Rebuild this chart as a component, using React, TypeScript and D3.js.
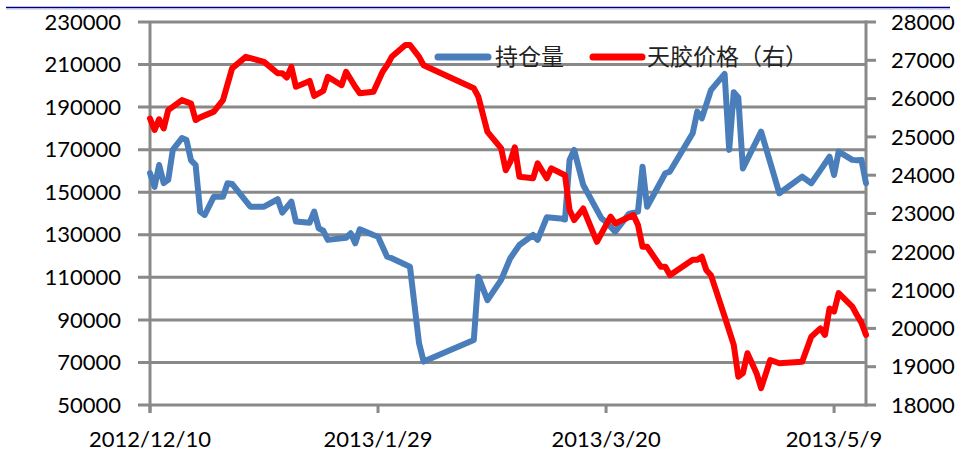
import React, { useEffect, useRef } from 'react';
import * as d3 from 'd3';

// 持仓量 (left axis)
const oiDates = [
  '2012-12-10', '2012-12-11', '2012-12-12', '2012-12-13', '2012-12-14', '2012-12-15',
  '2012-12-17', '2012-12-18', '2012-12-19', '2012-12-20', '2012-12-21', '2012-12-22',
  '2012-12-24', '2012-12-26', '2012-12-27', '2012-12-28', '2013-01-01', '2013-01-04',
  '2013-01-07', '2013-01-08', '2013-01-10', '2013-01-11', '2013-01-14', '2013-01-15',
  '2013-01-16', '2013-01-17', '2013-01-18', '2013-01-22', '2013-01-23', '2013-01-24',
  '2013-01-25', '2013-01-28', '2013-01-29', '2013-01-31', '2013-02-01', '2013-02-05',
  '2013-02-07', '2013-02-08', '2013-02-19', '2013-02-20', '2013-02-22', '2013-02-25',
  '2013-02-27', '2013-03-01', '2013-03-04', '2013-03-05', '2013-03-07', '2013-03-10',
  '2013-03-11', '2013-03-12', '2013-03-13', '2013-03-15', '2013-03-19', '2013-03-20',
  '2013-03-22', '2013-03-25', '2013-03-27', '2013-03-28', '2013-03-29', '2013-04-02',
  '2013-04-03', '2013-04-08', '2013-04-09', '2013-04-10', '2013-04-12', '2013-04-15',
  '2013-04-16', '2013-04-17', '2013-04-18', '2013-04-19', '2013-04-23', '2013-04-27',
  '2013-05-02', '2013-05-04', '2013-05-06', '2013-05-08', '2013-05-09', '2013-05-10',
  '2013-05-13', '2013-05-14', '2013-05-15', '2013-05-16'
];
const oiValues = [
  159000, 152500, 162800, 154300, 155800, 169900,
  175500, 174500, 165000, 162800, 140900, 139300,
  147900, 147900, 154200, 153900, 143200, 143200,
  146700, 140400, 145600, 136200, 135700, 140900,
  133000, 131900, 127600, 128600, 130700, 126000,
  132600, 129900, 129100, 119700, 119000, 115000,
  79000, 70400, 80500, 110300, 99300, 108800,
  119000, 125200, 129900, 127600, 138200, 137700,
  137200, 165200, 169900, 153400, 137700, 136000,
  131500, 139800, 140900, 162000, 143200, 158900,
  159700, 177700, 187900, 184700, 198000, 205600,
  169900, 197000, 194500, 161200, 178500, 149500,
  157300, 154200, 160400, 166700, 158100, 169100,
  165200, 165000, 165200, 154200
];

// 天胶价格 (right axis)
const priceDates = [
  '2012-12-10', '2012-12-11', '2012-12-12', '2012-12-13', '2012-12-14', '2012-12-17',
  '2012-12-19', '2012-12-20', '2012-12-21', '2012-12-24', '2012-12-26', '2012-12-28',
  '2012-12-31', '2013-01-04', '2013-01-07', '2013-01-08', '2013-01-09', '2013-01-10',
  '2013-01-11', '2013-01-13', '2013-01-14', '2013-01-15', '2013-01-17', '2013-01-18',
  '2013-01-21', '2013-01-22', '2013-01-24', '2013-01-25', '2013-01-28', '2013-01-30',
  '2013-01-31', '2013-02-01', '2013-02-04', '2013-02-05', '2013-02-07', '2013-02-08',
  '2013-02-19', '2013-02-20', '2013-02-22', '2013-02-25', '2013-02-26', '2013-02-27',
  '2013-02-28', '2013-03-01', '2013-03-04', '2013-03-05', '2013-03-07', '2013-03-08',
  '2013-03-11', '2013-03-12', '2013-03-13', '2013-03-15', '2013-03-18', '2013-03-21',
  '2013-03-22', '2013-03-26', '2013-03-27', '2013-03-28', '2013-03-29', '2013-04-01',
  '2013-04-02', '2013-04-03', '2013-04-08', '2013-04-09', '2013-04-10', '2013-04-11',
  '2013-04-12', '2013-04-15', '2013-04-17', '2013-04-18', '2013-04-19', '2013-04-20',
  '2013-04-22', '2013-04-23', '2013-04-25', '2013-04-27', '2013-05-02', '2013-05-04',
  '2013-05-06', '2013-05-07', '2013-05-08', '2013-05-09', '2013-05-10', '2013-05-13',
  '2013-05-14', '2013-05-15', '2013-05-16'
];
const priceValues = [
  25480, 25180, 25460, 25220, 25700, 25960,
  25870, 25440, 25510, 25660, 25960, 26790,
  27090, 26960, 26660, 26660, 26550, 26830,
  26310, 26410, 26460, 26070, 26200, 26570,
  26350, 26700, 26310, 26140, 26180, 26700,
  26870, 27090, 27400, 27400, 27090, 26870,
  26270, 26050, 25130, 24700, 24130, 24350,
  24730, 23960, 23920, 24310, 23920, 24180,
  24000, 23090, 22830, 23130, 22260, 22920,
  22740, 22960, 22700, 22130, 22130, 21610,
  21610, 21390, 21790, 21790, 21870, 21520,
  21390, 20310, 19570, 18740, 18830, 19350,
  18830, 18440, 19175, 19090, 19130, 19780,
  20000, 19830, 20520, 20440, 20920, 20570,
  20350, 20150, 19830
];

const leftTicks = [50000, 70000, 90000, 110000, 130000, 150000, 170000, 190000, 210000, 230000];
const rightTicks = [18000, 19000, 20000, 21000, 22000, 23000, 24000, 25000, 26000, 27000, 28000];
const xTickLabels = ['2012/12/10', '2013/1/29', '2013/3/20', '2013/5/9'];
const seriesNames = ['持仓量', '天胶价格（右）'];

const BLUE = '#4A7EBB';
const RED = '#FF0000';
const GRID = '#898989';

const App: React.FC = () => {
  const svgRef = useRef<SVGSVGElement>(null);
  const width = 959;
  const height = 455;

  useEffect(() => {
    const svg = d3.select(svgRef.current);
    svg.selectAll('*').remove();

    const plot = { left: 150, right: 866, top: 22, bottom: 405 };
    const parseDate = d3.timeParse('%Y-%m-%d');
    const tickFmt = d3.timeFormat('%Y/%-m/%-d');

    const oi = oiDates.map((d, i) => ({ date: parseDate(d) as Date, value: oiValues[i] }));
    const price = priceDates.map((d, i) => ({ date: parseDate(d) as Date, value: priceValues[i] }));

    const xScale = d3.scaleTime()
      .domain([parseDate('2012-12-10') as Date, parseDate('2013-05-16') as Date])
      .range([plot.left, plot.right]);

    const yLeft = d3.scaleLinear()
      .domain([50000, 230000])
      .range([plot.bottom, plot.top]);

    const yRight = d3.scaleLinear()
      .domain([18000, 28000])
      .range([plot.bottom, plot.top]);

    const xTicks = xTickLabels.map(s => {
      const [y, m, d] = s.split('/').map(Number);
      return new Date(y, m - 1, d);
    });

    const font = 'Lato, "Open Sans", sans-serif';

    // top rule
    svg.append('line')
      .attr('x1', 6).attr('x2', 950)
      .attr('y1', 7.5).attr('y2', 7.5)
      .attr('stroke', '#000080')
      .attr('stroke-width', 1.5);
    svg.append('line')
      .attr('x1', 6).attr('x2', 950)
      .attr('y1', 9).attr('y2', 9)
      .attr('stroke', '#b8bce0')
      .attr('stroke-width', 1);

    // gridlines
    svg.append('g')
      .selectAll('line')
      .data(leftTicks)
      .enter().append('line')
      .attr('x1', plot.left - 12)
      .attr('x2', plot.right)
      .attr('y1', d => yLeft(d))
      .attr('y2', d => yLeft(d))
      .attr('stroke', GRID)
      .attr('stroke-width', 3);

    // left axis line
    svg.append('line')
      .attr('x1', plot.left).attr('x2', plot.left)
      .attr('y1', plot.top).attr('y2', plot.bottom + 8)
      .attr('stroke', GRID).attr('stroke-width', 3);

    // right axis line + ticks
    svg.append('line')
      .attr('x1', plot.right).attr('x2', plot.right)
      .attr('y1', plot.top - 1.5).attr('y2', plot.bottom + 1.5)
      .attr('stroke', GRID).attr('stroke-width', 3);
    svg.append('g')
      .selectAll('line')
      .data(rightTicks)
      .enter().append('line')
      .attr('x1', plot.right)
      .attr('x2', plot.right + 10)
      .attr('y1', d => yRight(d))
      .attr('y2', d => yRight(d))
      .attr('stroke', GRID)
      .attr('stroke-width', 3);

    // bottom ticks
    svg.append('g')
      .selectAll('line')
      .data(xTicks)
      .enter().append('line')
      .attr('x1', d => xScale(d))
      .attr('x2', d => xScale(d))
      .attr('y1', plot.bottom)
      .attr('y2', plot.bottom + 8)
      .attr('stroke', GRID)
      .attr('stroke-width', 3);

    // tick labels
    svg.append('g')
      .selectAll('text')
      .data(leftTicks)
      .enter().append('text')
      .attr('x', 121)
      .attr('y', d => yLeft(d))
      .attr('dy', '0.35em')
      .attr('text-anchor', 'end')
      .style('font-family', font)
      .style('font-size', '22px')
      .style('fill', '#000')
      .text(d => String(d));

    svg.append('g')
      .selectAll('text')
      .data(rightTicks)
      .enter().append('text')
      .attr('x', 891)
      .attr('y', d => yRight(d))
      .attr('dy', '0.35em')
      .attr('text-anchor', 'start')
      .style('font-family', font)
      .style('font-size', '22px')
      .style('fill', '#000')
      .text(d => String(d));

    svg.append('g')
      .selectAll('text')
      .data(xTicks)
      .enter().append('text')
      .attr('x', d => xScale(d))
      .attr('y', 439)
      .attr('dy', '0.35em')
      .attr('text-anchor', 'middle')
      .style('font-family', font)
      .style('font-size', '22px')
      .style('fill', '#000')
      .text(d => tickFmt(d));

    // series
    const lineLeft = d3.line<{ date: Date; value: number }>()
      .x(d => xScale(d.date))
      .y(d => yLeft(d.value));
    const lineRight = d3.line<{ date: Date; value: number }>()
      .x(d => xScale(d.date))
      .y(d => yRight(d.value));

    svg.append('path')
      .datum(oi)
      .attr('fill', 'none')
      .attr('stroke', BLUE)
      .attr('stroke-width', 6)
      .attr('stroke-linejoin', 'round')
      .attr('stroke-linecap', 'round')
      .attr('d', lineLeft);

    svg.append('path')
      .datum(price)
      .attr('fill', 'none')
      .attr('stroke', RED)
      .attr('stroke-width', 6)
      .attr('stroke-linejoin', 'round')
      .attr('stroke-linecap', 'round')
      .attr('d', lineRight);

    // legend
    const legend = [
      { name: seriesNames[0], color: BLUE, x0: 438, x1: 488, tx: 495 },
      { name: seriesNames[1], color: RED, x0: 593, x1: 642, tx: 647 }
    ];
    const lg = svg.append('g');
    legend.forEach(l => {
      lg.append('line')
        .attr('x1', l.x0).attr('x2', l.x1)
        .attr('y1', 57).attr('y2', 57)
        .attr('stroke', l.color)
        .attr('stroke-width', 7)
        .attr('stroke-linecap', 'round');
      lg.append('text')
        .attr('x', l.tx)
        .attr('y', 57)
        .attr('dy', '0.35em')
        .style('font-family', '"Noto Sans CJK SC", sans-serif')
        .style('font-size', '23px')
        .style('fill', '#222')
        .text(l.name);
    });
  }, []);

  return (
    <svg
      ref={svgRef}
      width={width}
      height={height}
      style={{ position: 'absolute', left: 0, top: 0, background: '#fff' }}
    />
  );
};

export default App;
